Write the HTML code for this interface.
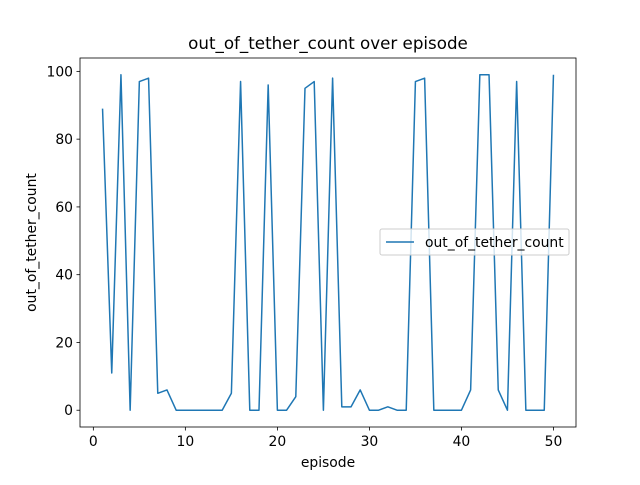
<!DOCTYPE html>
<html><head><meta charset="utf-8"><style>
body{margin:0;background:#fff;}
svg text{font-family:"DejaVu Sans","Liberation Sans",sans-serif;}
</style></head><body>
<svg id="chart" width="640" height="480" xmlns="http://www.w3.org/2000/svg">
<rect width="640" height="480" fill="#fff"/>
<text x="328" y="49" font-size="16.7" text-anchor="middle">out_of_tether_count over episode</text>
<g id="axes"></g>
</svg>
<script>
const episodes=[1,2,3,4,5,6,7,8,9,10,11,12,13,14,15,16,17,18,19,20,21,22,23,24,25,26,27,28,29,30,31,32,33,34,35,36,37,38,39,40,41,42,43,44,45,46,47,48,49,50];
const counts=[89,11,99,0,97,98,5,6,0,0,0,0,0,0,5,97,0,0,96,0,0,4,95,97,0,98,1,1,6,0,0,1,0,0,97,98,0,0,0,0,6,99,99,6,0,97,0,0,0,99];
const xTicks=[0,10,20,30,40,50];
const yTicks=[0,20,40,60,80,100];
const L=80,R=576,T=58,B=427;
const xmin=-1.45,xmax=52.45,ymin=-4.95,ymax=103.95;
const sx=v=>L+(v-xmin)/(xmax-xmin)*(R-L);
const sy=v=>B-(v-ymin)/(ymax-ymin)*(B-T);
const NS="http://www.w3.org/2000/svg";
const g=document.getElementById('axes');
function mk(t,a){const e=document.createElementNS(NS,t);for(const k in a)e.setAttribute(k,a[k]);g.appendChild(e);return e;}
const line=mk('polyline',{points:episodes.map((e,i)=>sx(e)+','+sy(counts[i])).join(' '),fill:'none',stroke:'#1f77b4','stroke-width':1.5,'stroke-linejoin':'round'});


const frame=mk('rect',{x:L,y:T,width:R-L,height:B-T,fill:'none',stroke:'#000','stroke-width':0.8});


xTicks.forEach(v=>{
  const x=sx(v);
  const tk=mk('line',{x1:x,x2:x,y1:B,y2:B+3.5,stroke:'#000','stroke-width':0.8});
  
  
  const t=mk('text',{x:x,y:B+19,'font-size':13.9,'text-anchor':'middle'});t.textContent=v;
  
  
});
yTicks.forEach(v=>{
  const y=sy(v);
  const tk=mk('line',{x1:L-3.5,x2:L,y1:y,y2:y,stroke:'#000','stroke-width':0.8});
  
  
  const t=mk('text',{x:L-7,y:y+5,'font-size':13.9,'text-anchor':'end'});t.textContent=v;
  
  
});
const xl=mk('text',{x:(L+R)/2,y:467,'font-size':13.9,'text-anchor':'middle'});xl.textContent='episode';


const yl=mk('text',{x:36,y:(T+B)/2,'font-size':13.9,'text-anchor':'middle',transform:'rotate(-90 36 '+((T+B)/2)+')'});yl.textContent='out_of_tether_count';


const lb=mk('rect',{x:380,y:229,width:189,height:26,rx:2,fill:'#fff','fill-opacity':0.8,stroke:'#ccc','stroke-width':1});


const ll=mk('line',{x1:386,x2:414,y1:242,y2:242,stroke:'#1f77b4','stroke-width':1.5});


const lt=mk('text',{x:425,y:247,'font-size':13.9});lt.textContent='out_of_tether_count';


</script>
</body></html>
